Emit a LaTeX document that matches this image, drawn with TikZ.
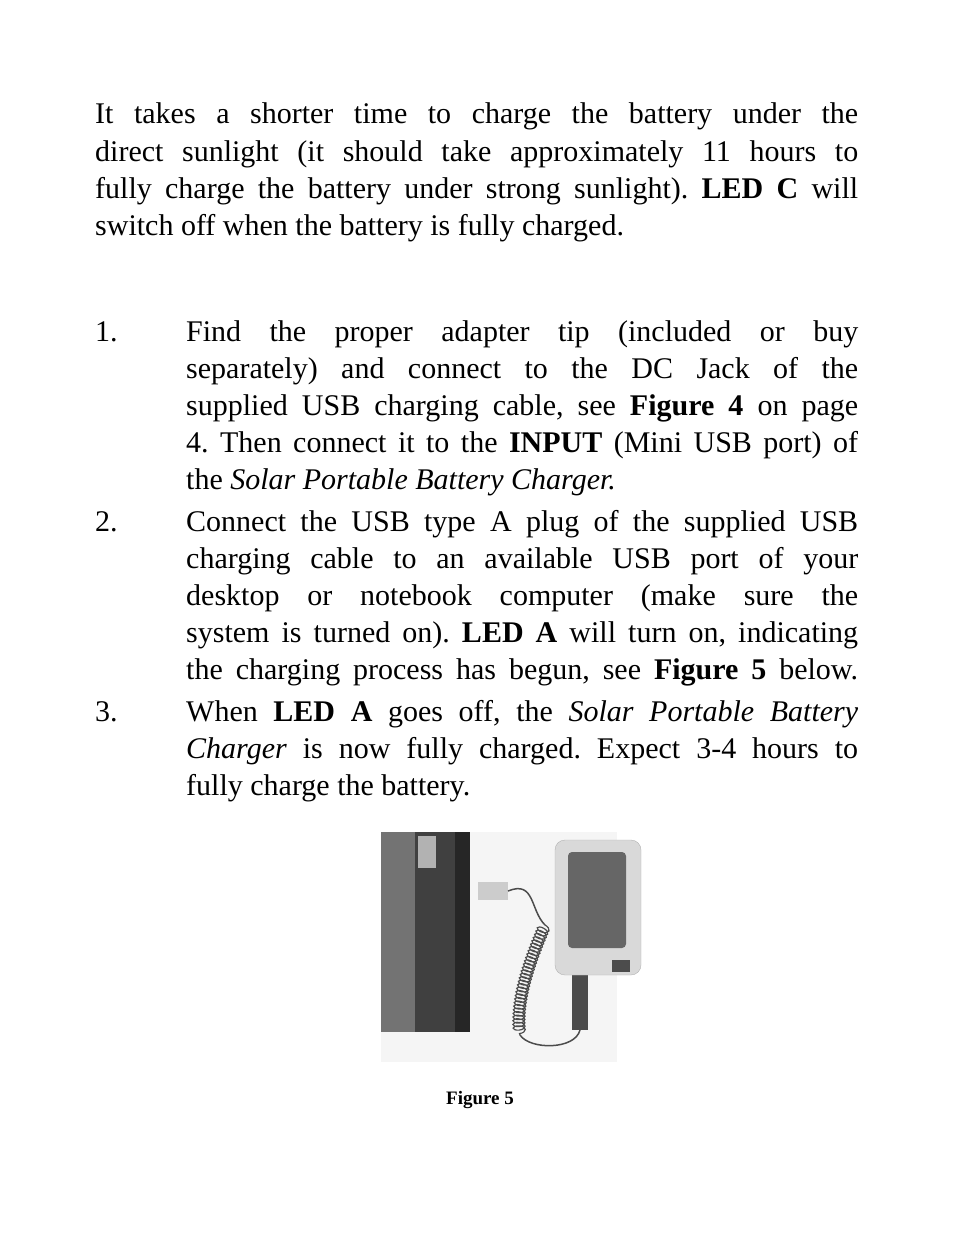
\documentclass[tikz,border=0pt]{standalone}
\usepackage{fontspec}
\setmainfont{Liberation Serif}
\usetikzlibrary{decorations.pathmorphing}
\frenchspacing
\begin{document}
\begin{tikzpicture}[x=1pt,y=-1pt,
  txt/.style={anchor=base west,inner sep=0pt,font=\fontsize{30}{37}\selectfont\frenchspacing}]
\useasboundingbox (0,0) rectangle (954,1244);
\newcommand\jl[4]{\node[txt] at (#1,#2) {\makebox[#3pt][s]{#4}};}
\newcommand\nl[3]{\node[txt] at (#1,#2) {#3};}
\jl{95}{124}{763}{It takes a shorter time to charge the battery under the}
\jl{95}{161}{763}{direct sunlight (it should take approximately 11 hours to}
\jl{95}{198}{763}{fully charge the battery under strong sunlight). \textbf{LED C} will}
\nl{95}{235}{switch off when the battery is fully charged.}
\nl{95}{341}{1.}
\jl{186}{341}{672}{Find the proper adapter tip (included or buy}
\jl{186}{378}{672}{separately) and connect to the DC Jack of the}
\jl{186}{415}{672}{supplied USB charging cable, see \textbf{Figure 4} on page}
\jl{186}{452}{672}{4. Then connect it to the \textbf{INPUT} (Mini USB port) of}
\nl{186}{489}{the \textit{Solar Portable Battery Charger.}}
\nl{95}{531}{2.}
\jl{186}{531}{672}{Connect the USB type A plug of the supplied USB}
\jl{186}{568}{672}{charging cable to an available USB port of your}
\jl{186}{605}{672}{desktop or notebook computer (make sure the}
\jl{186}{642}{672}{system is turned on). \textbf{LED A} will turn on, indicating}
\jl{186}{679}{672}{the charging process has begun, see \textbf{Figure 5} below.}
\nl{95}{721}{3.}
\jl{186}{721}{672}{When \textbf{LED A} goes off, the \textit{Solar Portable Battery}}
\jl{186}{758}{672}{\textit{Charger} is now fully charged. Expect 3-4 hours to}
\nl{186}{795}{fully charge the battery.}
% photo
\fill[gray!8] (381,832) rectangle (617,1062);
\fill[black!75] (381,832) rectangle (470,1032);
\fill[black!55] (381,832) rectangle (415,1032);
\fill[black!85] (470,832) -- (470,1032) -- (455,1032) -- (455,832) -- cycle;
\fill[gray!60] (418,836) rectangle (436,868);
\fill[gray!40] (478,882) rectangle (508,900);
\draw[black!70,line width=1.5] (508,891) .. controls (535,880) and (530,910) .. (545,925);
\draw[black!70,line width=1.2,decorate,
  decoration={coil,segment length=3.5pt,amplitude=6pt}] (545,925) .. controls (530,960) and (515,1000) .. (520,1035);
\draw[black!70,line width=1.5] (520,1035) .. controls (530,1050) and (575,1050) .. (580,1030);
\fill[black!70] (572,975) rectangle (588,1030);
\fill[gray!30,draw=gray!60,rounded corners=10] (555,840) rectangle (641,975);
\fill[black!60,rounded corners=4] (568,852) rectangle (626,948);
\fill[black!70] (612,960) rectangle (630,972);
\node[font=\fontsize{19}{22}\selectfont\bfseries] (cap) at (480,1100) {Figure 5};
\end{tikzpicture}
\end{document}
